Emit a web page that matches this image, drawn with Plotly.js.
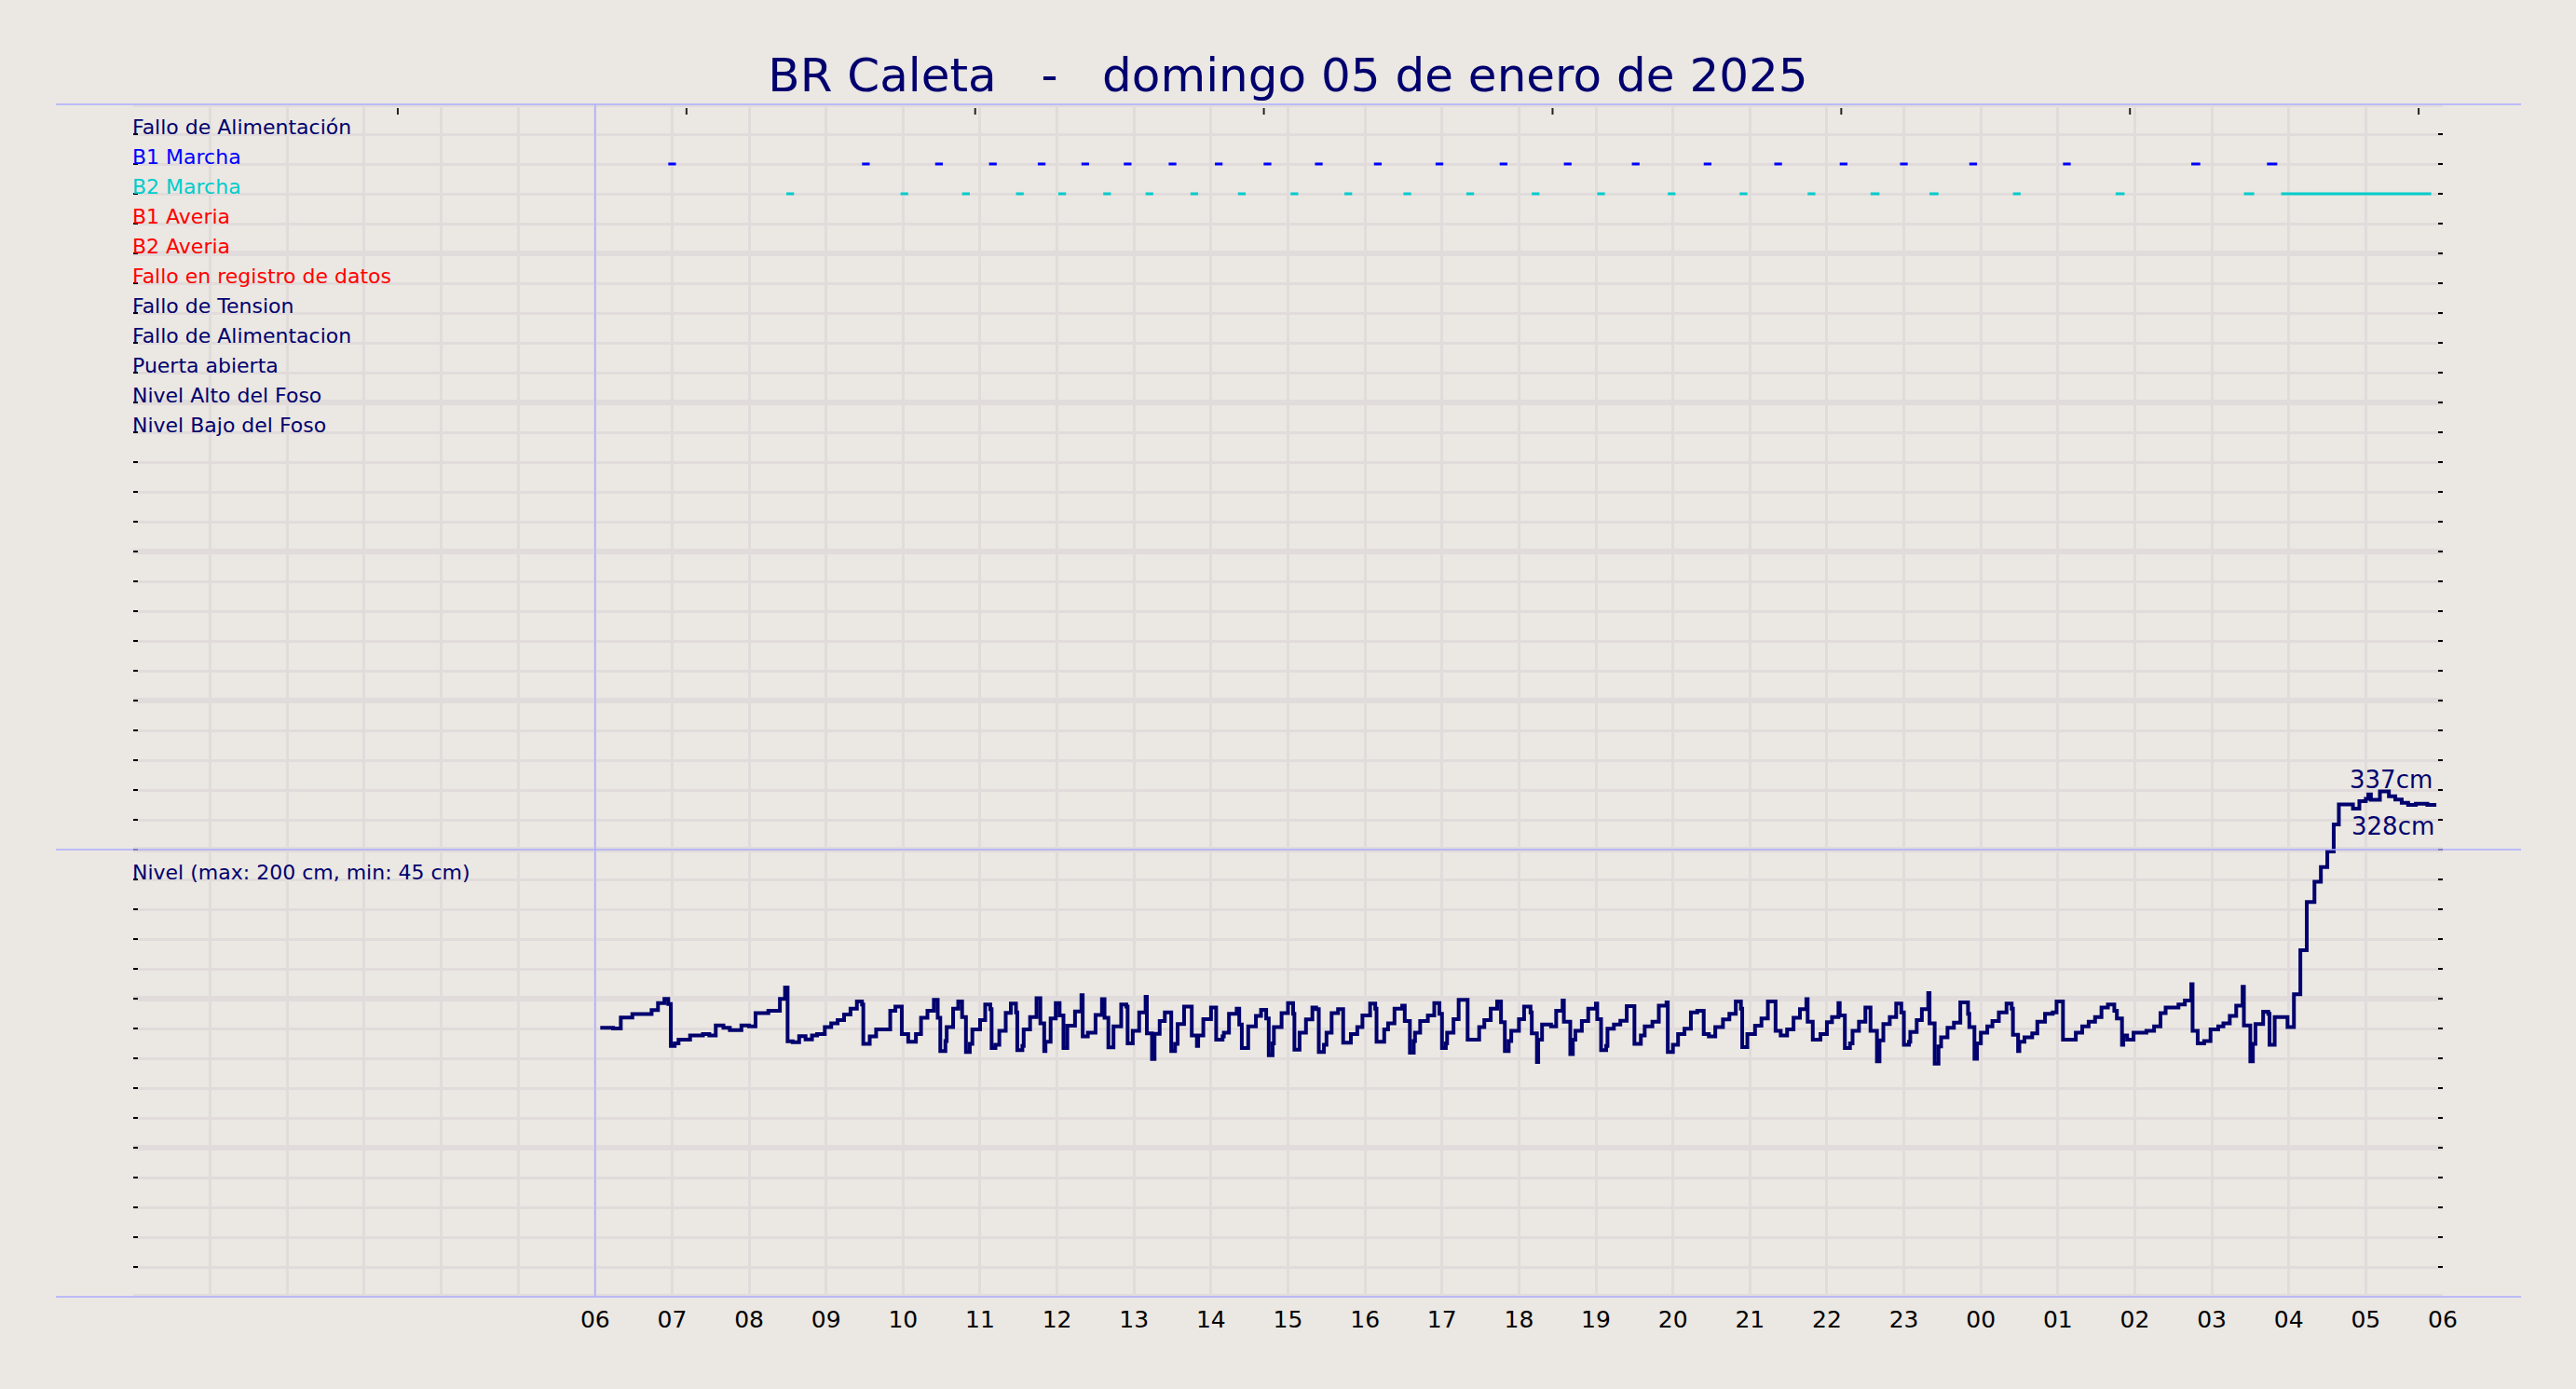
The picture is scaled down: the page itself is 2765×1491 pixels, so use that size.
<!DOCTYPE html>
<html>
<head>
<meta charset="utf-8">
<script src="https://cdn.plot.ly/plotly-3.0.1.min.js"></script>
<style>
  html, body { margin: 0; padding: 0; background: #ebe7e2; }
  #chart { width: 2765px; height: 1491px; }
</style>
</head>
<body>
<div id="chart"></div>
<script>
// ---------------- DATA ----------------
const titleText = 'BR Caleta\u00a0\u00a0\u00a0-\u00a0\u00a0\u00a0domingo 05 de enero de 2025';

const categories = [
  'Fallo de Alimentación', 'B1 Marcha', 'B2 Marcha', 'B1 Averia', 'B2 Averia',
  'Fallo en registro de datos', 'Fallo de Tension', 'Fallo de Alimentacion',
  'Puerta abierta', 'Nivel Alto del Foso', 'Nivel Bajo del Foso'
];

const levelNote = 'Nivel (max: 200 cm, min: 45 cm)';

const hourLabels = ['06','07','08','09','10','11','12','13','14','15','16','17','18',
  '19','20','21','22','23','00','01','02','03','04','05','06'];

// B1 Marcha (pump 1 running) intervals
const b1Start = ['06:57','09:28','10:25','11:07','11:45','12:19','12:52','13:27','14:03','14:41','15:21','16:07',
  '16:55','17:45','18:35','19:28','20:24','21:19','22:10','22:57','23:51','01:04','02:44','03:43'];
const b1End = ['07:03','09:34','10:31','11:13','11:51','12:25','12:58','13:33','14:09','14:47','15:27','16:13',
  '17:01','17:51','18:41','19:34','20:30','21:25','22:16','23:03','23:57','01:10','02:51','03:51'];

// B2 Marcha (pump 2 running) intervals
const b2Start = ['08:29','09:58','10:46','11:28','12:01','12:36','13:09','13:44','14:21','15:02','15:44','16:30',
  '17:19','18:10','19:01','19:56','20:52','21:45','22:34','23:20','00:25','01:45','03:25','03:54'];
const b2End = ['08:35','10:04','10:52','11:34','12:07','12:42','13:15','13:50','14:27','15:08','15:50','16:36',
  '17:25','18:16','19:07','20:02','20:58','21:51','22:41','23:27','00:31','01:52','03:33','05:51'];

// Nivel (cm) – step series
const levelTime = [
'06:04','06:14','06:20','06:29','06:44','06:49','06:54','06:57','06:59','07:02',
'07:05','07:14','07:24','07:29','07:34','07:40','07:45','07:54','08:00','08:05',
'08:15','08:24','08:28','08:30','08:34','08:39','08:44','08:49','08:53','08:59',
'09:04','09:09','09:14','09:19','09:24','09:28','09:29','09:34','09:39','09:50',
'09:54','09:59','10:04','10:10','10:14','10:19','10:24','10:27','10:29','10:33',
'10:34','10:39','10:43','10:46','10:49','10:52','10:54','11:00','11:04','11:08',
'11:09','11:12','11:15','11:20','11:24','11:28','11:29','11:33','11:34','11:39',
'11:44','11:47','11:50','11:51','11:55',
'11:59','12:02','12:05','12:08','12:14','12:19','12:20','12:24','12:30','12:35',
'12:37','12:40','12:44','12:50','12:54','12:55','12:59','13:04','13:09','13:10',
'13:14','13:16','13:20','13:24','13:29','13:32','13:34','13:39','13:45','13:49',
'13:50','13:54','14:00','14:04','14:09','14:10','14:14','14:20','14:22','14:24',
'14:29','14:35','14:39','14:43','14:45','14:48','14:49','14:55','15:00','15:04',
'15:05','15:09','15:14','15:19','15:22','15:24','15:28','15:30','15:34','15:39',
'15:43','15:49','15:54','15:58','16:04','16:08','16:09','16:15','16:18','16:23',
'16:29','16:31','16:35','16:38','16:39','16:43','16:49','16:54','16:58','17:00',
'17:03','17:04','17:09','17:13','17:20','17:29','17:33','17:38','17:43','17:46',
'17:49',
'17:52','17:54','18:00','18:04','18:09','18:10','18:14','18:15','18:18','18:25',
'18:29','18:34','18:35','18:40','18:42','18:44','18:49','18:54','19:00','19:01',
'19:04','19:08','19:09','19:14','19:19','19:24','19:30','19:35','19:38','19:44',
'19:49','19:55','19:56','20:00','20:04','20:09','20:14','20:19','20:24','20:28',
'20:33','20:39','20:44','20:49','20:53','20:54','20:58','21:04','21:09','21:14',
'21:20','21:24','21:29','21:34','21:39','21:44','21:45','21:49','21:55','22:00',
'22:04','22:09','22:10','22:14','22:18','22:20','22:25','22:30','22:34','22:39',
'22:41','22:44','22:49','22:54','22:58','23:00','23:04','23:05','23:10','23:14',
'23:19','23:20','23:24','23:27','23:29','23:34','23:39',
'23:44','23:50','23:51','23:55','23:57','00:00','00:05','00:09','00:14','00:20',
'00:24','00:25','00:29','00:30','00:34','00:40','00:44','00:50','00:56','00:59',
'01:04','01:14','01:19','01:24','01:29','01:34','01:39','01:44','01:46','01:50',
'01:51','01:54','01:59','02:09','02:15','02:20','02:24','02:34','02:39','02:44',
'02:45','02:49','02:54','02:59','03:05','03:09','03:14','03:19','03:24','03:25',
'03:30','03:32','03:34','03:40','03:44','03:45','03:49','03:59','04:04','04:09',
'04:14','04:20','04:25','04:30','04:35','04:39','04:50','04:55','05:00','05:02',
'05:04','05:11','05:18','05:23','05:28','05:33','05:39','05:48','05:55'
];
const levelCm = [
179.4,178.9,186.2,188.6,191.2,195.9,198.6,195.3,167.3,169,
171.5,174.2,175.2,174.2,181,179.4,177.9,181,180.4,189.1,
190.8,198.6,206.3,170.4,169.7,173.8,171.7,174.2,175.2,179.8,
182.4,184.5,188.2,192.2,197,194.9,168.6,173.6,178.3,190.8,
193.5,175.2,170,175.2,186,190.8,198,186,163.9,170.6,
179.8,192.2,197,186.6,163.2,168.6,178.3,184.5,194.9,191.8,
165.9,168,177.3,189.3,195.5,189.7,164.5,167.3,178.3,186.6,
199.1,182.4,163.9,170,185.6,
195.9,187.6,165.9,180.8,190.3,201.1,173.6,176.2,188,198.5,
186,166.3,180.4,194.9,193.5,169,177.3,189.7,200,175.7,
158.6,175.3,183.9,189.7,163.9,168.6,181.9,193.5,174.2,167.3,
174.2,185.2,192.9,171.5,173.6,176.2,188.7,192.2,181.5,165.9,
180.4,187.3,191.4,185.6,161.1,169,179.8,189.1,195.9,188.7,
164.8,176.2,185,192.9,191.8,163.2,168,176.2,189.1,191.8,
169.5,175.2,179.8,187.6,195.5,192.2,170,178.3,182.4,192.2,
194.2,183.9,162.8,170.6,176.2,183.9,187.6,195.9,188.7,165.9,
169,176.2,185.2,198,171.5,179.8,184.5,192.2,197,183.1,
163.9,
170.6,177.3,185.2,193.5,189.7,175.7,156.6,171.5,181.5,180.4,
190.8,197.6,183.5,161.8,171.5,177.3,183.9,192.2,195.5,185.2,
164.5,167.3,178.7,181.5,184.1,193.8,168.6,174.2,180.4,183.5,
194.2,196.3,163.2,168,175.2,178.7,189.7,190.8,175.2,173.6,
179.8,185,188.7,197,192.2,166.5,175.2,180.8,185.6,197,
177.3,174.2,178.3,186,191.8,198.5,183.5,171.5,175.2,183.1,
186.6,195.9,187.6,165.9,169,177.3,183.5,192.9,177.3,157,
171,181.9,186.6,195.5,189.7,168,170,176.6,184.5,191.8,
202.6,182.4,155.5,166.9,173.1,179.4,182.8,
196.3,188.7,179.8,158.7,169,176.2,180.4,183.9,189.7,195.5,
192.2,174.8,163.9,170,173.1,175.7,183.5,188.7,189.7,197,
171.5,176.2,180.4,183.5,186.6,192.9,194.9,190.8,185.6,168,
174.2,171.5,176.2,177.3,180.4,189.1,192.9,194.9,197.6,208.4,
177.3,169,170.6,178.3,180.4,182.4,187.3,194.2,206.7,181,
157,168.6,181.9,190.1,188.7,168,186.6,179.8,201.7,231.1,
263.2,276.7,286.6,297,315,328.4,325.6,330.5,332,335,
331.5,337,333.8,331.6,329.5,328,328.8,328,328
];

// ---------------- HELPERS / STYLE ----------------
function toDate(hm) {
  const h = parseInt(hm.slice(0, 2), 10);
  return (h < 6 ? '2025-01-06 ' : '2025-01-05 ') + hm;
}
function segments(starts, ends, row) {
  const xs = [], ys = [];
  starts.forEach((s, i) => { xs.push(toDate(s), toDate(ends[i]), null); ys.push(row, row, null); });
  return { xs, ys };
}

const FONT = 'DejaVu Sans, Verdana, sans-serif';
const NAVY = '#00006e';
const BG = '#ebe7e2';
const GRID = '#e1dcdb';
const BLUE_LINE = '#adadff';
const labelColors = [NAVY, '#0000ff', '#00cccc', '#ff0000', '#ff0000', '#ff0000', NAVY, NAVY, NAVY, NAVY, NAVY];

const xStart = '2025-01-05 00:00';
const xEnd = '2025-01-06 06:00';

// hourly ticks: blank labels before the 06 start
const tickvals = [], ticktext = [];
const nBlank = 6;
for (let i = 0; i < nBlank + hourLabels.length; i++) {
  const day = i < 24 ? '05' : '06';
  const hh = String(i % 24).padStart(2, '0');
  tickvals.push('2025-01-' + day + ' ' + hh + ':00');
  ticktext.push(i < nBlank ? '' : hourLabels[i - nBlank]);
}

const b1 = segments(b1Start, b1End, categories[1]);
const b2 = segments(b2Start, b2End, categories[2]);
const levelX = levelTime.map(toDate);
const lastX = levelX[levelX.length - 1];
const lastV = levelCm[levelCm.length - 1];
const maxV = Math.max.apply(null, levelCm);

const W = 2765, H = 1491, ML = 143, MR = 143, MT = 112, MB = 99;
const PW = W - ML - MR, PH = H - MT - MB;

const traces = [
  { x: categories.map(() => xStart), y: categories, xaxis: 'x', yaxis: 'y3', type: 'scatter', mode: 'markers',
    marker: { opacity: 0, size: 1 }, hoverinfo: 'skip', showlegend: false },
  { x: b1.xs, y: b1.ys, xaxis: 'x', yaxis: 'y3', type: 'scatter', mode: 'lines',
    line: { color: '#0000ff', width: 3 }, showlegend: false },
  { x: b2.xs, y: b2.ys, xaxis: 'x', yaxis: 'y3', type: 'scatter', mode: 'lines',
    line: { color: '#00cccc', width: 3 }, showlegend: false },
  { x: levelX, y: levelCm, xaxis: 'x', yaxis: 'y2', type: 'scatter', mode: 'lines',
    line: { color: NAVY, width: 4, shape: 'hv' }, showlegend: false }
];

const annotations = categories.map((c, i) => ({
  xref: 'paper', x: 0, xanchor: 'left', xshift: -3,
  yref: 'y3', y: c, yanchor: 'bottom', yshift: -6.5,
  text: c, showarrow: false,
  font: { family: FONT, size: 22, color: labelColors[i] }
}));
annotations.push({
  xref: 'paper', x: 0, xanchor: 'left', xshift: -3,
  yref: 'y', y: 14, yanchor: 'bottom', yshift: -6.5,
  text: levelNote, showarrow: false, font: { family: FONT, size: 22, color: NAVY }
});
annotations.push({
  xref: 'x', x: lastX, xanchor: 'right', xshift: -2,
  yref: 'y2', y: lastV, yanchor: 'bottom', yshift: 10,
  text: Math.round(maxV) + 'cm', showarrow: false, font: { family: FONT, size: 26, color: NAVY }
});
annotations.push({
  xref: 'x', x: lastX, xanchor: 'right', xshift: 0,
  yref: 'y2', y: lastV, yanchor: 'top', yshift: -6,
  text: Math.round(lastV) + 'cm', showarrow: false, font: { family: FONT, size: 26, color: NAVY }
});

const lx0 = (60 - ML) / PW, lx1 = (2706 - ML) / PW;
const hLine = (yp) => ({ type: 'line', xref: 'paper', yref: 'paper', x0: lx0, x1: lx1, y0: yp, y1: yp,
  line: { color: BLUE_LINE, width: 1.5 }, layer: 'above' });

const shapes = [ hLine(1), hLine(15 / 40), hLine(0),
  { type: 'line', xref: 'x', yref: 'paper', x0: toDate(hourLabels[0] + ':00'), x1: toDate(hourLabels[0] + ':00'), y0: 0, y1: 1,
    line: { color: BLUE_LINE, width: 1.5 }, layer: 'above' }
];
// thick grid every 5 rows (drawn below traces)
for (let k = 0; k <= 40; k += 5) {
  shapes.push({ type: 'line', xref: 'paper', yref: 'y', x0: 0, x1: 1, y0: k, y1: k,
    line: { color: GRID, width: 6 }, layer: 'below' });
}
// top tick marks
for (let k = 0; k < 8; k++) {
  shapes.push({ type: 'line', xref: 'paper', yref: 'paper', x0: (0.9164 + k) / 8, x1: (0.9164 + k) / 8,
    y0: 1 - 4 / PH, y1: 1 - 11 / PH, line: { color: '#222222', width: 2 }, layer: 'above' });
}

const layout = {
  width: W, height: H,
  margin: { l: ML, r: MR, t: MT, b: MB, pad: 0 },
  paper_bgcolor: BG, plot_bgcolor: BG,
  showlegend: false, hovermode: false,
  font: { family: FONT, color: NAVY },
  title: {
    text: titleText, font: { family: FONT, size: 50, color: NAVY },
    x: 0.5, xref: 'container', xanchor: 'center',
    y: 1 - 80 / H, yref: 'container', yanchor: 'middle'
  },
  xaxis: {
    type: 'date', range: [xStart, xEnd], anchor: 'y',
    tickmode: 'array', tickvals: tickvals, ticktext: ticktext,
    showgrid: true, gridcolor: GRID, gridwidth: 3,
    ticks: '', showline: false, zeroline: false,
    tickfont: { family: FONT, size: 25, color: '#000000' },
    ticklabelstandoff: 7, fixedrange: true
  },
  yaxis: {
    range: [0, 40], tickmode: 'linear', tick0: 0, dtick: 1,
    ticks: 'inside', ticklen: 5, tickwidth: 2, tickcolor: '#000000', mirror: 'ticks',
    showticklabels: false, showgrid: true, gridcolor: GRID, gridwidth: 3,
    zeroline: false, showline: false, fixedrange: true
  },
  yaxis3: {
    overlaying: 'y', type: 'category', categoryorder: 'array', categoryarray: categories,
    range: [39, -1], autorange: false, showgrid: false, ticks: '', showticklabels: false,
    zeroline: false, showline: false
  },
  yaxis2: {
    overlaying: 'y', range: [0, 333 * PH / 536], autorange: false,
    showgrid: false, ticks: '', showticklabels: false, zeroline: false, showline: false
  },
  annotations: annotations,
  shapes: shapes
};

Plotly.newPlot('chart', traces, layout, { staticPlot: true, displayModeBar: false });
</script>
</body>
</html>
